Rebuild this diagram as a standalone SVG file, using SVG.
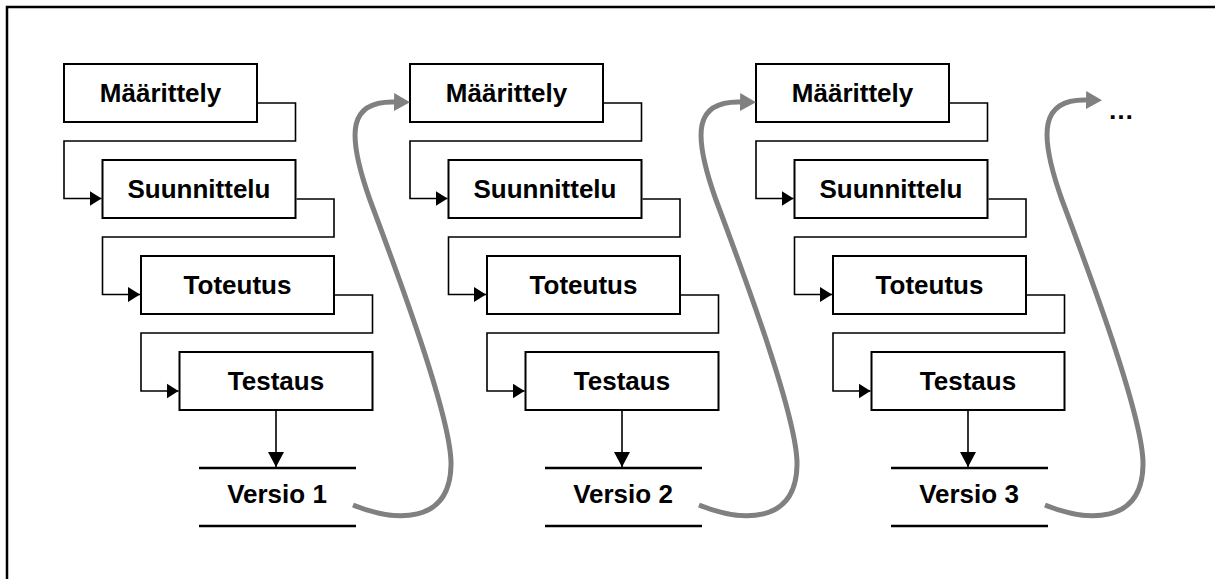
<svg xmlns="http://www.w3.org/2000/svg" width="1215" height="579" viewBox="0 0 1215 579">
  <style>
    .frame { fill: none; stroke: #000; stroke-width: 2.5; }
    .box { fill: #fff; stroke: #000; stroke-width: 2; }
    .lbl { font-family: "Liberation Sans", Arial, sans-serif; font-weight: bold; font-size: 26px; fill: #000; text-anchor: middle; }
    .flow { fill: none; stroke: #000; stroke-width: 1.6; }
    .rule { stroke: #000; stroke-width: 2.4; }
    .loop { fill: none; stroke: #808080; stroke-width: 5; }
  </style>
  <defs>
    <marker id="arr" markerUnits="userSpaceOnUse" viewBox="0 -8 12 16" markerWidth="12" markerHeight="16" refX="12" refY="0" orient="auto">
      <path d="M0,-7.5 L12,0 L0,7.5 z" fill="#000"/>
    </marker>
    <marker id="arr-down" markerUnits="userSpaceOnUse" viewBox="0 -8.5 15 17" markerWidth="15" markerHeight="17" refX="15" refY="0" orient="auto">
      <path d="M0,-8 L15,0 L0,8 z" fill="#000"/>
    </marker>
    <marker id="garr" markerUnits="userSpaceOnUse" viewBox="0 -9 16 18" markerWidth="16" markerHeight="18" refX="0" refY="0" orient="auto">
      <path d="M0,-9 L16,0 L0,9 z" fill="#808080"/>
    </marker>
  </defs>

  <rect width="1215" height="579" fill="#fff"/>
  <!-- outer frame (left and top edges visible) -->
  <path class="frame" d="M7,590 V7 H1230"/>

  <!-- column 1 -->
  <g id="maarittely-1"><rect class="box" x="64" y="64" width="193" height="58"/><text class="lbl" x="160.5" y="102">Määrittely</text></g>
  <g id="suunnittelu-1"><rect class="box" x="102.5" y="160" width="193" height="58"/><text class="lbl" x="199" y="198">Suunnittelu</text></g>
  <g id="toteutus-1"><rect class="box" x="141" y="256" width="193" height="58"/><text class="lbl" x="237.5" y="294">Toteutus</text></g>
  <g id="testaus-1"><rect class="box" x="179.5" y="352" width="193" height="58"/><text class="lbl" x="276" y="390">Testaus</text></g>
  <g id="versio-1"><line class="rule" x1="199" y1="468" x2="356" y2="468"/><line class="rule" x1="199" y1="526" x2="356" y2="526"/><text class="lbl" x="277" y="503">Versio 1</text></g>

  <!-- column 2 -->
  <g id="maarittely-2"><rect class="box" x="410" y="64" width="193" height="58"/><text class="lbl" x="506.5" y="102">Määrittely</text></g>
  <g id="suunnittelu-2"><rect class="box" x="448.5" y="160" width="193" height="58"/><text class="lbl" x="545" y="198">Suunnittelu</text></g>
  <g id="toteutus-2"><rect class="box" x="487" y="256" width="193" height="58"/><text class="lbl" x="583.5" y="294">Toteutus</text></g>
  <g id="testaus-2"><rect class="box" x="525.5" y="352" width="193" height="58"/><text class="lbl" x="622" y="390">Testaus</text></g>
  <g id="versio-2"><line class="rule" x1="545" y1="468" x2="702" y2="468"/><line class="rule" x1="545" y1="526" x2="702" y2="526"/><text class="lbl" x="623" y="503">Versio 2</text></g>

  <!-- column 3 -->
  <g id="maarittely-3"><rect class="box" x="756" y="64" width="193" height="58"/><text class="lbl" x="852.5" y="102">Määrittely</text></g>
  <g id="suunnittelu-3"><rect class="box" x="794.5" y="160" width="193" height="58"/><text class="lbl" x="891" y="198">Suunnittelu</text></g>
  <g id="toteutus-3"><rect class="box" x="833" y="256" width="193" height="58"/><text class="lbl" x="929.5" y="294">Toteutus</text></g>
  <g id="testaus-3"><rect class="box" x="871.5" y="352" width="193" height="58"/><text class="lbl" x="968" y="390">Testaus</text></g>
  <g id="versio-3"><line class="rule" x1="891" y1="468" x2="1048" y2="468"/><line class="rule" x1="891" y1="526" x2="1048" y2="526"/><text class="lbl" x="969" y="503">Versio 3</text></g>

  <g id="more"><text class="lbl" x="1121" y="119">…</text></g>

  <g id="connectors">
    <!-- column 1 -->
    <path class="flow" d="M258,103 H295.5 V141 H64 V198.5 H101.5" marker-end="url(#arr)"/>
    <path class="flow" d="M296.5,199 H334 V237 H102.5 V294.5 H140" marker-end="url(#arr)"/>
    <path class="flow" d="M335,295 H372.5 V333 H141 V391 H178.5" marker-end="url(#arr)"/>
    <path class="flow" d="M276,411 V467" marker-end="url(#arr-down)"/>
    <!-- column 2 -->
    <path class="flow" d="M604,103 H641.5 V141 H410 V198.5 H447.5" marker-end="url(#arr)"/>
    <path class="flow" d="M642.5,199 H680 V237 H448.5 V294.5 H486" marker-end="url(#arr)"/>
    <path class="flow" d="M681,295 H718.5 V333 H487 V391 H524.5" marker-end="url(#arr)"/>
    <path class="flow" d="M622,411 V467" marker-end="url(#arr-down)"/>
    <!-- column 3 -->
    <path class="flow" d="M950,103 H987.5 V141 H756 V198.5 H793.5" marker-end="url(#arr)"/>
    <path class="flow" d="M988.5,199 H1026 V237 H794.5 V294.5 H832" marker-end="url(#arr)"/>
    <path class="flow" d="M1027,295 H1064.5 V333 H833 V391 H870.5" marker-end="url(#arr)"/>
    <path class="flow" d="M968,411 V467" marker-end="url(#arr-down)"/>
    <!-- iteration loops -->
    <path class="loop" d="M353,505 C395,522 450,525 451,465 C452,420 400,280 370,200 C345,130 350,101 394,102" marker-end="url(#garr)"/>
    <path class="loop" d="M699,505 C741,522 796,525 797,465 C798,420 746,280 716,200 C691,130 696,101 740,102" marker-end="url(#garr)"/>
    <path class="loop" d="M1045,505 C1087,522 1142,525 1143,465 C1144,420 1092,280 1062,200 C1037,130 1042,99 1086,100" marker-end="url(#garr)"/>
  </g>
</svg>
